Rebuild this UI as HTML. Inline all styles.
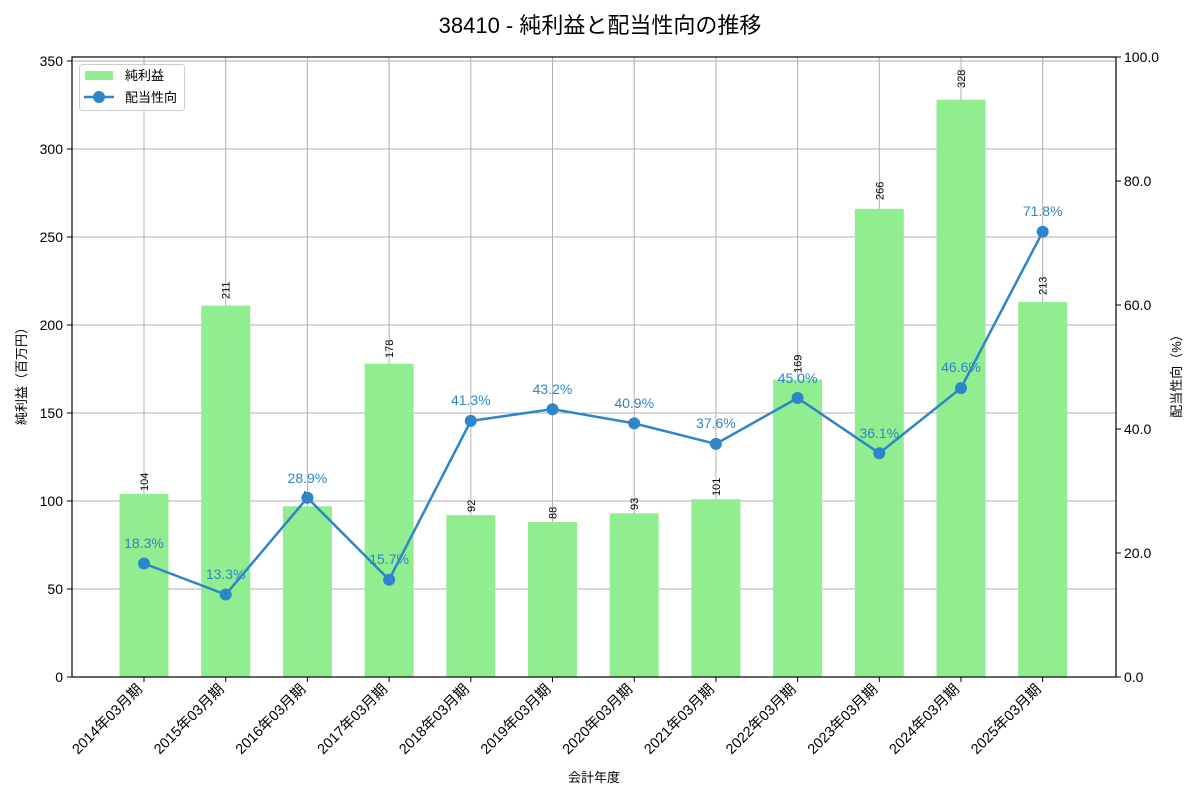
<!DOCTYPE html>
<html><head><meta charset="utf-8"><style>body{margin:0;background:#fff}svg{display:block;font-family:"Liberation Sans","Noto Sans CJK JP",sans-serif}</style></head><body>
<svg width="1200" height="800" xmlns="http://www.w3.org/2000/svg">
<text x="600" y="33" font-size="22" text-anchor="middle" fill="#000">38410 - 純利益と配当性向の推移</text>
<g stroke="#b0b0b0" stroke-width="1">
<line x1="72" x2="1116" y1="589" y2="589"/><line x1="72" x2="1116" y1="501" y2="501"/><line x1="72" x2="1116" y1="413" y2="413"/><line x1="72" x2="1116" y1="325" y2="325"/><line x1="72" x2="1116" y1="237" y2="237"/><line x1="72" x2="1116" y1="149" y2="149"/><line x1="72" x2="1116" y1="61" y2="61"/>
<line x1="144" x2="144" y1="57" y2="677"/><line x1="225.7" x2="225.7" y1="57" y2="677"/><line x1="307.4" x2="307.4" y1="57" y2="677"/><line x1="389.1" x2="389.1" y1="57" y2="677"/><line x1="470.8" x2="470.8" y1="57" y2="677"/><line x1="552.5" x2="552.5" y1="57" y2="677"/><line x1="634.2" x2="634.2" y1="57" y2="677"/><line x1="715.9" x2="715.9" y1="57" y2="677"/><line x1="797.6" x2="797.6" y1="57" y2="677"/><line x1="879.3" x2="879.3" y1="57" y2="677"/><line x1="961" x2="961" y1="57" y2="677"/><line x1="1042.7" x2="1042.7" y1="57" y2="677"/>
</g>
<g fill="#90ee90">
<rect x="119.5" y="494" width="49" height="183"/><rect x="201.2" y="305.6" width="49" height="371.4"/><rect x="282.9" y="506.3" width="49" height="170.7"/><rect x="364.6" y="363.7" width="49" height="313.3"/><rect x="446.3" y="515.1" width="49" height="161.9"/><rect x="528" y="522.1" width="49" height="154.9"/><rect x="609.7" y="513.3" width="49" height="163.7"/><rect x="691.4" y="499.2" width="49" height="177.8"/><rect x="773.1" y="379.6" width="49" height="297.4"/><rect x="854.8" y="208.8" width="49" height="468.2"/><rect x="936.5" y="99.7" width="49" height="577.3"/><rect x="1018.2" y="302.1" width="49" height="374.9"/>
</g>
<g font-size="11" fill="#000">
<text transform="translate(148,491) rotate(-90)">104</text><text transform="translate(229.7,299) rotate(-90)">211</text><text transform="translate(311.4,503) rotate(-90)">97</text><text transform="translate(393.1,358) rotate(-90)">178</text><text transform="translate(474.8,512) rotate(-90)">92</text><text transform="translate(556.5,519) rotate(-90)">88</text><text transform="translate(638.2,510) rotate(-90)">93</text><text transform="translate(719.9,496) rotate(-90)">101</text><text transform="translate(801.6,373) rotate(-90)">169</text><text transform="translate(883.3,200) rotate(-90)">266</text><text transform="translate(965,88) rotate(-90)">328</text><text transform="translate(1046.7,295) rotate(-90)">213</text>
</g>
<polyline fill="none" stroke="#2e86c8" stroke-width="2.5" points="144,563.5 225.7,594.5 307.4,497.8 389.1,579.7 470.8,420.9 552.5,409.2 634.2,423.4 715.9,443.9 797.6,398 879.3,453.2 961,388.1 1042.7,231.8"/>
<g fill="#2e86c8">
<circle cx="144" cy="563.5" r="6"/><circle cx="225.7" cy="594.5" r="6"/><circle cx="307.4" cy="497.8" r="6"/><circle cx="389.1" cy="579.7" r="6"/><circle cx="470.8" cy="420.9" r="6"/><circle cx="552.5" cy="409.2" r="6"/><circle cx="634.2" cy="423.4" r="6"/><circle cx="715.9" cy="443.9" r="6"/><circle cx="797.6" cy="398" r="6"/><circle cx="879.3" cy="453.2" r="6"/><circle cx="961" cy="388.1" r="6"/><circle cx="1042.7" cy="231.8" r="6"/>
</g>
<g font-size="14" fill="#2e86c8" text-anchor="middle">
<text x="144" y="548">18.3%</text><text x="225.7" y="579">13.3%</text><text x="307.4" y="483">28.9%</text><text x="389.1" y="564">15.7%</text><text x="470.8" y="405">41.3%</text><text x="552.5" y="394">43.2%</text><text x="634.2" y="408">40.9%</text><text x="715.9" y="428">37.6%</text><text x="797.6" y="383">45.0%</text><text x="879.3" y="438">36.1%</text><text x="961" y="372">46.6%</text><text x="1042.7" y="216">71.8%</text>
</g>
<rect x="72" y="57" width="1044" height="620" fill="none" stroke="#000" stroke-width="1.2"/>
<g stroke="#000"><line x1="67" x2="72" y1="677" y2="677"/><line x1="67" x2="72" y1="589" y2="589"/><line x1="67" x2="72" y1="501" y2="501"/><line x1="67" x2="72" y1="413" y2="413"/><line x1="67" x2="72" y1="325" y2="325"/><line x1="67" x2="72" y1="237" y2="237"/><line x1="67" x2="72" y1="149" y2="149"/><line x1="67" x2="72" y1="61" y2="61"/>
<line x1="1116" x2="1121" y1="677" y2="677"/><line x1="1116" x2="1121" y1="553" y2="553"/><line x1="1116" x2="1121" y1="429" y2="429"/><line x1="1116" x2="1121" y1="305" y2="305"/><line x1="1116" x2="1121" y1="181" y2="181"/><line x1="1116" x2="1121" y1="57" y2="57"/></g>
<g font-size="14" fill="#000" text-anchor="end">
<text x="63" y="682">0</text><text x="63" y="594">50</text><text x="63" y="506">100</text><text x="63" y="418">150</text><text x="63" y="330">200</text><text x="63" y="242">250</text><text x="63" y="154">300</text><text x="63" y="66">350</text>
</g>
<g font-size="14" fill="#000">
<text x="1124" y="682">0.0</text><text x="1124" y="558">20.0</text><text x="1124" y="434">40.0</text><text x="1124" y="310">60.0</text><text x="1124" y="186">80.0</text><text x="1124" y="62">100.0</text>
</g>
<g stroke="#000"><line x1="144" x2="144" y1="677" y2="682"/><line x1="225.7" x2="225.7" y1="677" y2="682"/><line x1="307.4" x2="307.4" y1="677" y2="682"/><line x1="389.1" x2="389.1" y1="677" y2="682"/><line x1="470.8" x2="470.8" y1="677" y2="682"/><line x1="552.5" x2="552.5" y1="677" y2="682"/><line x1="634.2" x2="634.2" y1="677" y2="682"/><line x1="715.9" x2="715.9" y1="677" y2="682"/><line x1="797.6" x2="797.6" y1="677" y2="682"/><line x1="879.3" x2="879.3" y1="677" y2="682"/><line x1="961" x2="961" y1="677" y2="682"/><line x1="1042.7" x2="1042.7" y1="677" y2="682"/></g>
<g font-size="14.5" fill="#000" text-anchor="end">
<text transform="translate(143,690) rotate(-45)">2014年03月期</text><text transform="translate(224.7,690) rotate(-45)">2015年03月期</text><text transform="translate(306.4,690) rotate(-45)">2016年03月期</text><text transform="translate(388.1,690) rotate(-45)">2017年03月期</text><text transform="translate(469.8,690) rotate(-45)">2018年03月期</text><text transform="translate(551.5,690) rotate(-45)">2019年03月期</text><text transform="translate(633.2,690) rotate(-45)">2020年03月期</text><text transform="translate(714.9,690) rotate(-45)">2021年03月期</text><text transform="translate(796.6,690) rotate(-45)">2022年03月期</text><text transform="translate(878.3,690) rotate(-45)">2023年03月期</text><text transform="translate(960,690) rotate(-45)">2024年03月期</text><text transform="translate(1041.7,690) rotate(-45)">2025年03月期</text>
</g>
<text x="594" y="782" font-size="13" text-anchor="middle">会計年度</text>
<text transform="translate(26,373) rotate(-90)" font-size="13" text-anchor="middle">純利益（百万円）</text>
<text transform="translate(1181,373) rotate(-90)" font-size="13" text-anchor="middle">配当性向（%）</text>
<rect x="79.5" y="64.5" width="105" height="46" rx="3" fill="#fff" fill-opacity="0.8" stroke="#ccc"/>
<rect x="85" y="71" width="28" height="9" fill="#90ee90"/>
<text x="125" y="80" font-size="13">純利益</text>
<line x1="84" x2="114" y1="97" y2="97" stroke="#2e86c8" stroke-width="2.5"/><circle cx="99" cy="97" r="6" fill="#2e86c8"/>
<text x="125" y="102" font-size="13">配当性向</text>
</svg>
</body></html>
